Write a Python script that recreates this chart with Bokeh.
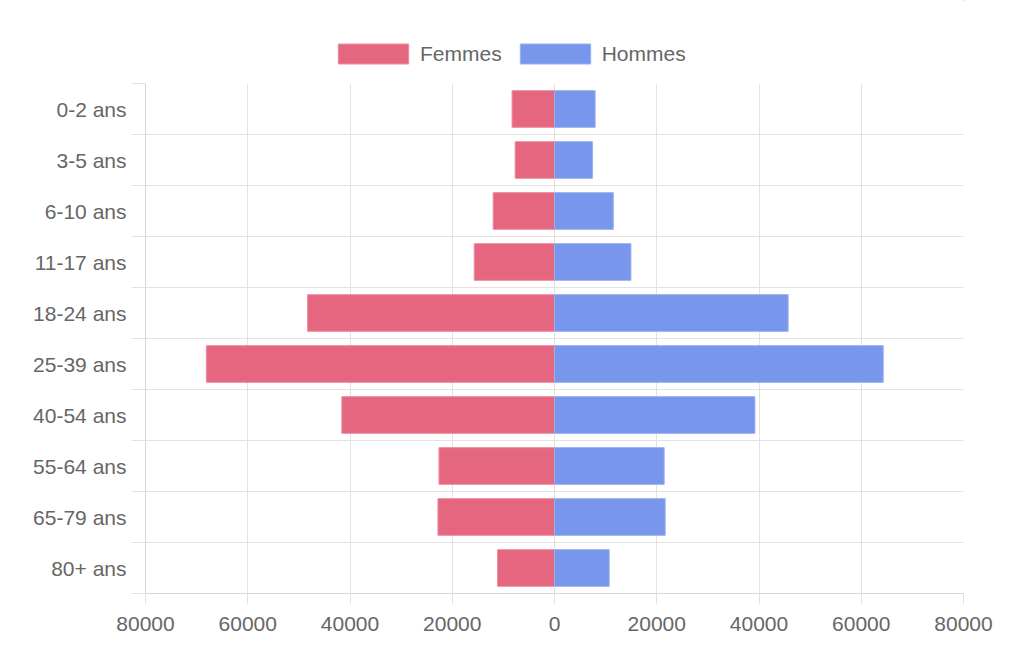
import numpy as np
from bokeh.plotting import figure
from bokeh.layouts import column
from bokeh.models import (ColumnDataSource, FixedTicker, Range1d, Legend, LegendItem)
from bokeh.embed import file_html
from bokeh.resources import INLINE

categories = ["0-2 ans", "3-5 ans", "6-10 ans", "11-17 ans", "18-24 ans",
              "25-39 ans", "40-54 ans", "55-64 ans", "65-79 ans", "80+ ans"]
femmes = [8300, 7700, 12000, 15700, 48300, 68100, 41600, 22600, 22800, 11150]
hommes = [7950, 7450, 11500, 14950, 45700, 64300, 39200, 21450, 21650, 10700]
x_ticks = [-80000, -60000, -40000, -20000, 0, 20000, 40000, 60000, 80000]
series_names = ["Femmes", "Hommes"]

FONT = "Liberation Sans"
FS = "21px"
TXT = "#666666"
GRID = "#e2e2e2"
COL_F, LINE_F = "#e5667f", "#ec8ea3"
COL_H, LINE_H = "#7796ec", "#9ab1f0"

n = len(categories)
centers = [i + 0.5 for i in range(n)]
bounds = [float(i) for i in range(n + 1)]

src = ColumnDataSource(dict(
    y=centers,
    fl=[-v for v in femmes], fr=[0] * n,
    hl=[0] * n, hr=hommes,
))

# ---- legend strip ----
lg = figure(width=1024, height=83, output_backend="svg", toolbar_location=None,
            x_axis_type=None, y_axis_type=None,
            x_range=Range1d(0, 1), y_range=Range1d(0, 1),
            min_border_left=145, min_border_right=61, min_border_top=0, min_border_bottom=0)
lg.outline_line_color = None
lg.xgrid.visible = False
lg.ygrid.visible = False
proxy = ColumnDataSource(dict(y=[5], l=[5], r=[6]))  # outside the visible range
df = lg.hbar(y="y", left="l", right="r", height=1, source=proxy,
             fill_color=COL_F, line_color=LINE_F)
dh = lg.hbar(y="y", left="l", right="r", height=1, source=proxy,
             fill_color=COL_H, line_color=LINE_H)
legend = Legend(items=[LegendItem(label=series_names[0], renderers=[df]),
                       LegendItem(label=series_names[1], renderers=[dh])],
                orientation="horizontal", location=(184, 17),
                glyph_width=88, glyph_height=25, label_height=25,
                label_standoff=3, spacing=9, padding=0, margin=0,
                border_line_color=None, background_fill_alpha=0,
                label_text_font=FONT, label_text_font_size=FS,
                label_text_color=TXT)
lg.add_layout(legend, "center")

# ---- main chart ----
p = figure(width=1024, height=588, output_backend="svg", toolbar_location=None,
           x_range=Range1d(x_ticks[0], x_ticks[-1]), y_range=Range1d(n, 0),
           min_border_left=145, min_border_right=61, min_border_top=0, min_border_bottom=78)
p.outline_line_color = None

p.hbar(y="y", left="fl", right="fr", height=0.72, source=src,
       fill_color=COL_F, line_color=LINE_F, line_width=1)
p.hbar(y="y", left="hl", right="hr", height=0.72, source=src,
       fill_color=COL_H, line_color=LINE_H, line_width=1)

# x axis
p.xaxis.ticker = FixedTicker(ticks=x_ticks)
p.xaxis.major_label_overrides = {t: str(abs(t)) for t in x_ticks}
p.xaxis.axis_line_color = "#d6d6d6"
p.xaxis.major_tick_line_color = GRID
p.xaxis.major_tick_out = 11
p.xaxis.major_tick_in = 0
p.xaxis.minor_tick_line_color = None
p.xaxis.major_label_standoff = 12
p.xaxis.major_label_text_font = FONT
p.xaxis.major_label_text_font_size = FS
p.xaxis.major_label_text_color = TXT
p.xgrid.ticker = FixedTicker(ticks=x_ticks)
p.xgrid.grid_line_color = GRID

# y axis
p.yaxis.ticker = FixedTicker(ticks=centers, minor_ticks=bounds)
p.yaxis.major_label_overrides = {c: lab for c, lab in zip(centers, categories)}
p.yaxis.axis_line_color = "#d6d6d6"
p.yaxis.major_tick_line_color = None
p.yaxis.major_tick_out = 0
p.yaxis.major_tick_in = 0
p.yaxis.minor_tick_line_color = GRID
p.yaxis.minor_tick_out = 14
p.yaxis.minor_tick_in = 0
p.yaxis.major_label_standoff = 5
p.yaxis.major_label_text_font = FONT
p.yaxis.major_label_text_font_size = FS
p.yaxis.major_label_text_color = TXT
p.ygrid.ticker = FixedTicker(ticks=bounds)
p.ygrid.grid_line_color = GRID

open("out.html", "w").write(file_html(column(lg, p, spacing=0), INLINE))
